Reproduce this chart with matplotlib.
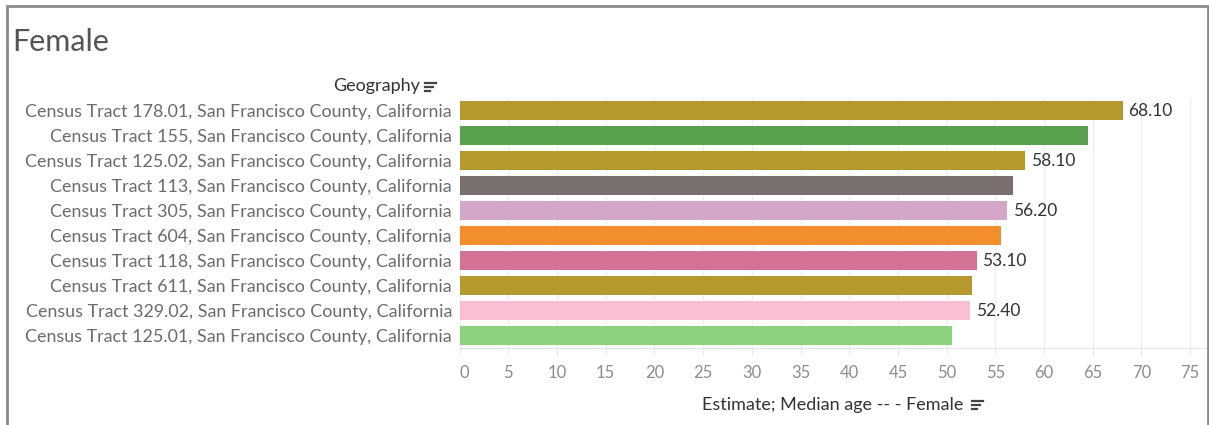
import matplotlib
matplotlib.use("Agg")
import matplotlib.pyplot as plt
from matplotlib.lines import Line2D
from matplotlib.patches import Rectangle

plt.rcParams['font.family'] = ['Lato', 'DejaVu Sans']

# data
tracts = ["178.01", "155", "125.02", "113", "305", "604", "118", "611", "329.02", "125.01"]
ages = [68.1, 64.5, 58.1, 56.8, 56.2, 55.6, 53.1, 52.6, 52.4, 50.6]
shown_labels = [True, False, True, False, True, False, True, False, True, False]
colors = ["#B6992D", "#59A14F", "#B6992D", "#79706E", "#D4A6C8",
          "#F28E2B", "#D37295", "#B6992D", "#FABFD2", "#8CD17D"]
xticks = list(range(0, 80, 5))

names = [f"Census Tract {t}, San Francisco County, California" for t in tracts]

W, H = 1209, 425
fig = plt.figure(figsize=(W / 100, H / 100), dpi=100)

def fx(px):
    return px / W

def fy(py):
    return 1 - py / H

# outer frame
fig.add_artist(Rectangle((fx(7), fy(440)), fx(1201), 434 / H, transform=fig.transFigure,
                         fill=False, edgecolor="#8a8a8a", linewidth=2))

ax = fig.add_axes([fx(459.6), fy(348), 1 - fx(459.6), 250 / H])
ypos = list(range(len(names)))
ax.barh(ypos, ages, height=0.76, color=colors, zorder=3)
ax.set_ylim(len(names) - 0.5, -0.5)
ax.set_xlim(0, (W - 459.6) / 9.74)

for y, v, show in zip(ypos, ages, shown_labels):
    if show:
        ax.annotate(f"{v:.2f}", (v, y), xytext=(4, 0), textcoords="offset points",
                    va="center", ha="left", fontsize=12.5, color="#333333")

ax.set_xticks(xticks)
ax.set_xticklabels([str(t) for t in xticks], fontsize=12, color="#8c8c8c")
ax.get_xticklabels()[0].set_horizontalalignment("left")
ax.tick_params(axis="x", length=5, color="#e6e6e6", pad=7)
ax.set_yticks(ypos)
ax.set_yticklabels(names, fontsize=12.9, color="#6b6b6b")
ax.tick_params(axis="y", length=0, pad=5.5)
ax.grid(axis="x", color="#efefef", linewidth=1, zorder=0)
for s in ["top", "right", "left"]:
    ax.spines[s].set_visible(False)
ax.spines["bottom"].set_color("#e6e6e6")

# titles
fig.text(fx(12), fy(42), "Female", fontsize=22, color="#555555", va="center", ha="left")
fig.text(fx(420), fy(86), "Geography", fontsize=13, color="#333333", va="center", ha="right")
fig.text(fx(833), fy(405), "Estimate; Median age -- - Female", fontsize=13, color="#333333",
         va="center", ha="center")

def sort_icon(x0, yc):
    for i, ln in enumerate([11, 8, 5]):
        yy = fy(yc - 4 + i * 4)
        fig.add_artist(Line2D([fx(x0), fx(x0 + ln)], [yy, yy], transform=fig.transFigure,
                              color="#444444", linewidth=1.6))

sort_icon(425, 87)
sort_icon(972, 405)

fig.savefig("out.png", dpi=100)
